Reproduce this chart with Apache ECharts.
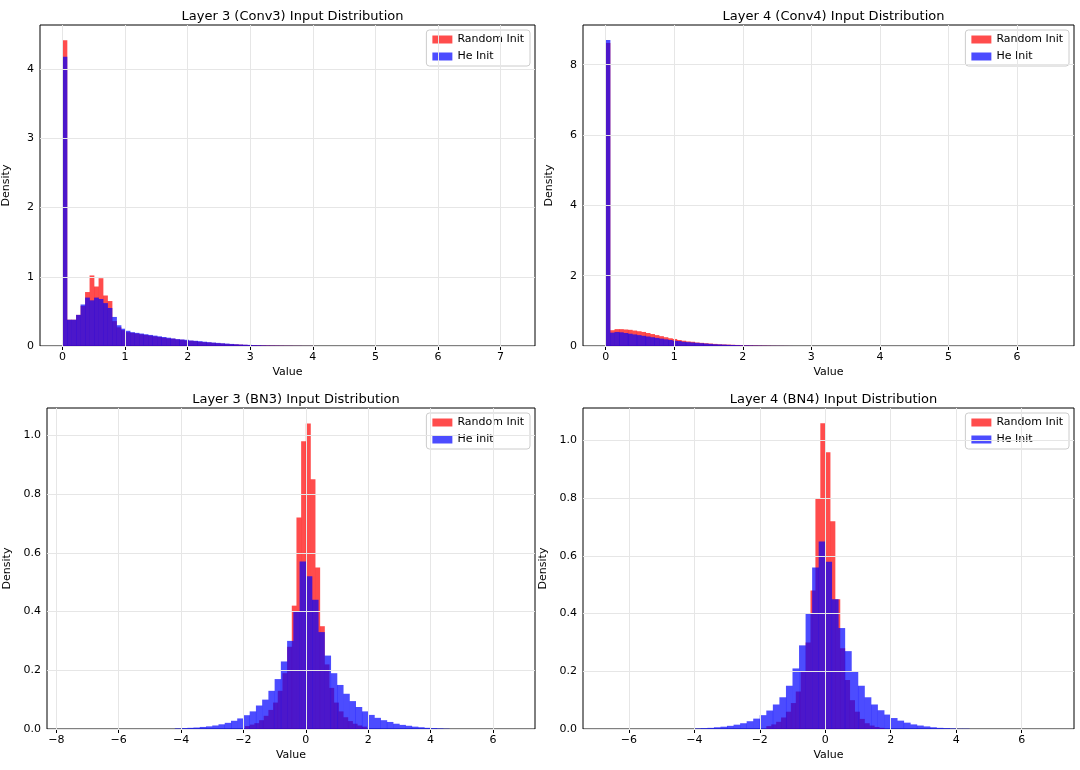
<!DOCTYPE html>
<html><head><meta charset="utf-8">
<script src="https://cdn.jsdelivr.net/npm/echarts@6/dist/echarts.min.js"></script>
<style>html,body{margin:0;background:#fff}#c{width:1080px;height:770px}</style>
</head><body><div id="c"></div>
<script>
// ---- data (histogram bins: start edge, bin width, densities) ----
const conv3RandStart = 0, conv3RandWidth = 0.072;
const conv3Rand = [4.42,0.38,0.38,0.45,0.58,0.78,1.02,0.86,0.98,0.73,0.65,0.36,0.27,0.23,0.2,0.19,0.18,0.17,0.16,0.15,0.14,0.13,0.12,0.11,0.105,0.095,0.09,0.08,0.075,0.07,0.06,0.055,0.05,0.045,0.04,0.035,0.03,0.027,0.024,0.02,0.017,0.015,0.012,0.01,0.008,0.007,0.006,0.005,0.004,0.003,0.003,0.002,0.002,0.001,0.001,0.001];
const conv3HeStart = 0, conv3HeWidth = 0.072;
const conv3He = [4.18,0.38,0.38,0.45,0.6,0.7,0.66,0.7,0.68,0.62,0.55,0.42,0.3,0.25,0.22,0.2,0.19,0.18,0.17,0.16,0.15,0.14,0.13,0.12,0.11,0.1,0.095,0.09,0.08,0.075,0.07,0.062,0.056,0.05,0.045,0.04,0.035,0.03,0.026,0.022,0.019,0.016,0.013,0.011,0.009,0.007,0.006,0.005,0.004,0.003,0.003,0.002,0.002,0.001,0.001,0.001];
const conv4RandStart = 0, conv4RandWidth = 0.065;
const conv4Rand = [8.62,0.45,0.48,0.48,0.47,0.46,0.44,0.42,0.4,0.37,0.34,0.31,0.28,0.25,0.22,0.2,0.17,0.15,0.13,0.12,0.1,0.09,0.08,0.07,0.06,0.05,0.045,0.04,0.035,0.03,0.025,0.02,0.017,0.014,0.011,0.009,0.007,0.005,0.004,0.003,0.002,0.001];
const conv4HeStart = 0, conv4HeWidth = 0.065;
const conv4He = [8.7,0.38,0.4,0.39,0.37,0.35,0.33,0.31,0.29,0.27,0.25,0.23,0.21,0.19,0.17,0.15,0.14,0.12,0.11,0.1,0.09,0.08,0.07,0.06,0.05,0.045,0.04,0.034,0.03,0.025,0.021,0.018,0.015,0.012,0.01,0.008,0.006,0.005,0.004,0.003,0.002,0.001];
const bn3RandStart = -1.95, bn3RandWidth = 0.15;
const bn3Rand = [0.01,0.015,0.02,0.03,0.045,0.065,0.09,0.13,0.19,0.28,0.42,0.72,0.98,1.04,0.85,0.55,0.35,0.22,0.14,0.09,0.06,0.04,0.027,0.018,0.012,0.008];
const bn3HeStart = -4.2, bn3HeWidth = 0.2;
const bn3He = [0.002,0.003,0.004,0.005,0.007,0.009,0.012,0.016,0.021,0.028,0.036,0.047,0.06,0.08,0.1,0.13,0.17,0.23,0.3,0.4,0.57,0.52,0.44,0.33,0.25,0.19,0.15,0.12,0.095,0.075,0.06,0.048,0.038,0.03,0.024,0.018,0.014,0.011,0.008,0.006,0.004,0.003,0.002,0.001];
const bn4RandStart = -1.8, bn4RandWidth = 0.15;
const bn4Rand = [0.01,0.016,0.025,0.04,0.06,0.09,0.13,0.2,0.3,0.48,0.8,1.06,0.96,0.72,0.45,0.28,0.17,0.1,0.06,0.035,0.02,0.012,0.007,0.004];
const bn4HeStart = -4.0, bn4HeWidth = 0.2;
const bn4He = [0.002,0.003,0.004,0.006,0.008,0.011,0.015,0.02,0.027,0.036,0.048,0.064,0.085,0.11,0.15,0.21,0.29,0.4,0.56,0.65,0.58,0.45,0.35,0.27,0.2,0.15,0.11,0.085,0.065,0.05,0.038,0.029,0.022,0.016,0.012,0.009,0.006,0.004,0.003,0.002,0.001,0.001];

const titles = ['Layer 3 (Conv3) Input Distribution','Layer 4 (Conv4) Input Distribution','Layer 3 (BN3) Input Distribution','Layer 4 (BN4) Input Distribution'];
const xTicks = [[0,1,2,3,4,5,6,7],[0,1,2,3,4,5,6],[-8,-6,-4,-2,0,2,4,6],[-6,-4,-2,0,2,4,6]];
const yTicks = [[0,1,2,3,4],[0,2,4,6,8],[0,0.2,0.4,0.6,0.8,1.0],[0,0.2,0.4,0.6,0.8,1.0]];
const xRange = [[-0.36,7.55],[-0.33,6.83],[-8.3,7.35],[-7.4,7.6]];
const yMax = [4.64,9.13,1.093,1.113];

const panels = [
  [[conv3RandStart,conv3RandWidth,conv3Rand],[conv3HeStart,conv3HeWidth,conv3He]],
  [[conv4RandStart,conv4RandWidth,conv4Rand],[conv4HeStart,conv4HeWidth,conv4He]],
  [[bn3RandStart,bn3RandWidth,bn3Rand],[bn3HeStart,bn3HeWidth,bn3He]],
  [[bn4RandStart,bn4RandWidth,bn4Rand],[bn4HeStart,bn4HeWidth,bn4He]]
];
const grids = [
  {left:40,top:25,width:495,height:321},
  {left:583,top:25,width:491,height:321},
  {left:47,top:408,width:488,height:321},
  {left:583,top:408,width:491,height:321}
];
const colors = ['rgba(255,0,0,0.7)','rgba(0,0,255,0.7)'];
const names = ['Random Init','He Init'];
const fmt = v => { let s = (Math.abs(v) < 1e-9 ? 0 : v); return String(s).replace('-','\u2212'); };
const fmtY = (i) => v => i >= 2 ? v.toFixed(1) : String(v);

const option = {animation:false, textStyle:{fontFamily:'DejaVu Sans'},
  title:[], grid:[], xAxis:[], yAxis:[], series:[], legend:[]};
grids.forEach((g,i)=>{
  option.grid.push(Object.assign({show:true,borderColor:'#000',borderWidth:1},g));
  option.title.push({text:titles[i],left:g.left+g.width/2,top:g.top-20,textAlign:'center',
    textStyle:{fontSize:13,fontWeight:'normal',color:'#000',fontFamily:'DejaVu Sans'}});
  option.xAxis.push({type:'value',gridIndex:i,min:xRange[i][0],max:xRange[i][1],
    name:'Value',nameLocation:'middle',nameGap:21,nameTextStyle:{fontSize:11,color:'#000'},
    axisLine:{show:false},splitLine:{show:false},
    axisTick:{show:true,customValues:xTicks[i],lineStyle:{color:'#000'},length:4},
    axisLabel:{customValues:xTicks[i],formatter:fmt,color:'#000',fontSize:11,margin:6}});
  option.yAxis.push({type:'value',gridIndex:i,min:0,max:yMax[i],
    name:'Density',nameLocation:'middle',nameGap:i>=2?34:28,nameTextStyle:{fontSize:11,color:'#000'},
    axisLine:{show:false},splitLine:{show:false},
    axisTick:{show:true,customValues:yTicks[i],lineStyle:{color:'#000'},length:4},
    axisLabel:{customValues:yTicks[i],formatter:fmtY(i),color:'#000',fontSize:11,margin:6}});
  // grid lines
  option.series.push({type:'line',xAxisIndex:i,yAxisIndex:i,data:[],silent:true,z:0,
    markLine:{silent:true,symbol:'none',label:{show:false},animation:false,
      lineStyle:{color:'#e6e6e6',type:'solid',width:1},
      data:xTicks[i].map(v=>({xAxis:v})).concat(yTicks[i].map(v=>({yAxis:v})))}});
  panels[i].forEach((p,k)=>{
    const [st,w,vals] = p;
    const data = vals.map((v,j)=>[st+j*w, st+(j+1)*w, v]);
    option.series.push({type:'custom',name:names[k],xAxisIndex:i,yAxisIndex:i,z:2+k,
      itemStyle:{color:colors[k]},
      encode:{x:[0,1],y:2},
      data,
      renderItem:(params,api)=>{
        const a = api.coord([api.value(0),api.value(2)]);
        const b = api.coord([api.value(1),0]);
        return {type:'rect',shape:{x:a[0],y:a[1],width:b[0]-a[0]+0.3,height:b[1]-a[1]},
          style:{fill:colors[k]}};
      }});
  });
  option.legend.push({data:names.map((n,k)=>({name:n,itemStyle:{color:colors[k]}})),
    orient:'vertical',right:1080-(g.left+g.width)+5,top:g.top+5,icon:'rect',itemWidth:20,itemHeight:8,
    itemGap:6,padding:[4,6],borderColor:'#ccc',borderWidth:1,borderRadius:3,backgroundColor:'rgba(255,255,255,0.8)',
    textStyle:{fontSize:11,color:'#000'},selectedMode:false});
});
echarts.init(document.getElementById('c')).setOption(option);
</script></body></html>
